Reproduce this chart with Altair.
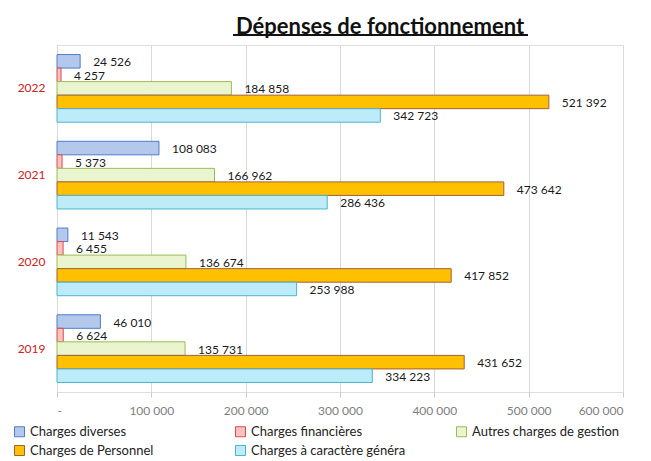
import altair as alt
import pandas as pd

years = ["2022", "2021", "2020", "2019"]
series = ["Charges diverses", "Charges financières", "Autres charges de gestion",
          "Charges de Personnel", "Charges à caractère généra"]
v2022 = [24526, 4257, 184858, 521392, 342723]
v2021 = [108083, 5373, 166962, 473642, 286436]
v2020 = [11543, 6455, 136674, 417852, 253988]
v2019 = [46010, 6624, 135731, 431652, 334223]

fills = ["#B4C8EC", "#F6C3C3", "#EAF5CF", "#FFC000", "#BDEBF8"]
strokes = ["#4F7CC8", "#E04848", "#9BBB59", "#A0603A", "#4BB4D0"]

rows = []
for yr, vals in zip(years, [v2022, v2021, v2020, v2019]):
    for s, v in zip(series, vals):
        rows.append({"year": yr, "series": s, "value": v,
                     "label": f"{v:,}".replace(",", " ")})
df = pd.DataFrame(rows)

FONT = "Lato"

yenc = alt.Y("year:N", sort=years, title=None,
             scale=alt.Scale(paddingInner=0.22, paddingOuter=0.11),
             axis=alt.Axis(labelColor="#D02020", labelFontSize=12, labelPadding=12,
                           ticks=False, domain=False, labelFont=FONT))
yoff = alt.YOffset("series:N", sort=series, scale=alt.Scale(paddingInner=0, domain=series))

legend = alt.Legend(title=None, orient="none", legendX=-44, legendY=380, columns=3,
                    direction="horizontal",
                    symbolType="square", symbolSize=100, labelFontSize=13,
                    labelFont=FONT, labelColor="#222222", gridAlign="all",
                    columnPadding=48, rowPadding=4, symbolStrokeWidth=1,
                    labelLimit=300)

base = alt.Chart(df)

bars = base.mark_bar(strokeWidth=1).encode(
    x=alt.X("value:Q", title=None,
            scale=alt.Scale(domain=[0, 600000], nice=False),
            axis=alt.Axis(values=[0, 100000, 200000, 300000, 400000, 500000, 600000],
                          labelExpr="datum.value == 0 ? '-' : replace(format(datum.value, ','), ',', ' ')",
                          labelColor="#808080", labelFontSize=12, labelFont=FONT,
                          gridColor="#D9D9D9", tickColor="#C8C8C8", tickSize=5,
                          domain=False, labelPadding=8)),
    y=yenc,
    yOffset=yoff,
    fill=alt.Fill("series:N", sort=series,
                  scale=alt.Scale(domain=series, range=fills), legend=legend),
    stroke=alt.Stroke("series:N", sort=series,
                      scale=alt.Scale(domain=series, range=strokes), legend=legend),
)

labels = base.mark_text(align="left", baseline="middle", dx=13, dy=1, fontSize=12,
                        font=FONT, color="#1a1a1a").encode(
    x="value:Q",
    y=alt.Y("year:N", sort=years),
    yOffset=alt.YOffset("series:N", sort=series),
    text="label:N",
)

underline = alt.Chart(pd.DataFrame({"a": [0]})).mark_rule(
    color="#111111", strokeWidth=2).encode(
    x=alt.value(176), x2=alt.value(471), y=alt.value(-10))

chart = alt.layer(bars, labels, underline).properties(
    width=566, height=347,
    title=alt.TitleParams("Dépenses de fonctionnement", fontSize=22, font=FONT,
                          fontWeight="bold", color="#111111", anchor="middle",
                          dx=40, offset=-5),
    padding={"left": 49, "right": 20, "top": 37, "bottom": 68},
    autosize=alt.AutoSizeParams(type="none"),
).configure_view(stroke=None).configure(background="white")

chart.save("out.html", embed_options={"renderer": "svg", "actions": False})
